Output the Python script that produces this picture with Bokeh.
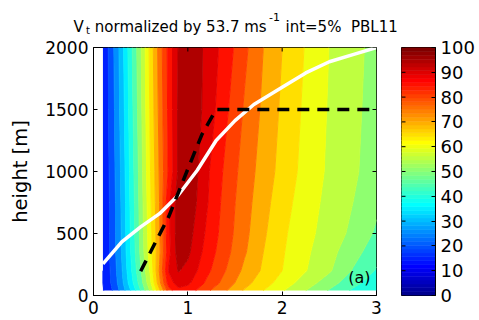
import numpy as np
from bokeh.plotting import figure
from bokeh.layouts import row, column
from bokeh.models import Range1d, FixedTicker, Label
from bokeh.embed import file_html
from bokeh.resources import INLINE

# radius (normalized) and height [m] of the wind field grid
radius = [0.1, 0.2, 0.3, 0.4, 0.5, 0.6, 0.7, 0.8, 0.9, 1.0, 1.1, 1.2,
          1.4, 1.6, 1.8, 2.0, 2.25, 2.5, 2.75, 3.0]
height = [40, 100, 200, 350, 500, 750, 1000, 1500, 2000]

# tangential wind in percent of 53.7 m/s, one row per height
vt_z40 = [14.5, 20.0, 27.0, 35.5, 45.0, 55.5, 69.0, 83.0, 88.5, 87.5, 84.5, 81.0,
          75.5, 69.5, 65.0, 60.4, 55.0, 49.5, 44.2, 40.5]
vt_z100 = [15.0, 21.0, 28.5, 38.0, 47.5, 58.5, 73.5, 87.5, 92.3, 91.0, 87.5, 84.0,
           78.0, 71.7, 67.2, 62.8, 57.4, 52.2, 46.6, 42.0]
vt_z200 = [15.0, 21.5, 29.5, 39.5, 49.5, 60.5, 75.5, 90.5, 95.3, 93.5, 90.0, 86.3,
           80.0, 73.8, 69.2, 65.0, 60.2, 55.6, 49.6, 44.5]
vt_z350 = [15.2, 22.0, 30.3, 40.5, 51.0, 62.5, 74.0, 88.5, 97.5, 96.0, 92.0, 88.0,
           81.6, 75.6, 70.0, 65.5, 60.9, 56.6, 52.0, 47.0]
vt_z500 = [15.2, 22.0, 30.5, 41.0, 51.5, 63.0, 74.5, 89.0, 97.8, 97.2, 93.0, 89.2,
           82.4, 76.4, 70.8, 66.0, 61.5, 57.8, 53.8, 49.2]
vt_z750 = [15.2, 22.2, 30.8, 41.5, 52.0, 63.8, 75.0, 89.0, 97.8, 99.8, 94.5, 90.5,
           83.0, 77.1, 71.8, 67.1, 62.3, 58.5, 55.0, 51.0]
vt_z1000 = [15.3, 22.5, 31.2, 42.0, 52.5, 64.5, 75.5, 86.0, 95.8, 98.8, 95.3, 91.0,
            83.9, 77.8, 72.8, 68.2, 63.2, 59.1, 55.9, 52.3]
vt_z1500 = [15.5, 23.0, 32.0, 43.0, 53.5, 65.5, 76.5, 86.5, 95.8, 98.8, 96.5, 93.3,
            86.0, 79.4, 74.0, 69.1, 63.9, 59.5, 56.2, 53.0]
vt_z2000 = [15.5, 23.5, 32.8, 43.9, 54.2, 66.3, 77.2, 86.8, 95.3, 98.0, 96.5, 93.8,
            87.7, 81.2, 75.0, 70.0, 64.6, 59.9, 56.6, 53.3]

levels = list(range(0, 105, 5))
cbar_ticks = list(range(0, 110, 10))
x_ticks = [0, 1, 2, 3]
y_ticks = [0, 500, 1000, 1500, 2000]

# solid white curve and dashed black curve
white_r = [0.1, 0.3, 0.5, 0.7, 0.9, 1.1, 1.3, 1.5, 1.7, 2.0, 2.25, 2.5, 2.75, 3.0]
white_z = [255, 432, 553, 660, 810, 1010, 1250, 1410, 1540, 1680, 1795, 1885, 1943, 2000]
dash_r = [0.5, 0.6, 0.8, 1.0, 1.15, 1.3, 3.0]
dash_z = [195, 345, 640, 1020, 1300, 1500, 1500]

FONT = "DejaVu Sans"
TICK_PX = 4


def jet(m=64):
    n = int(np.ceil(m / 4))
    u = np.concatenate([np.arange(1, n + 1) / n, np.ones(n - 1), np.arange(n, 0, -1) / n])
    g = int(np.ceil(n / 2)) - (1 if m % 4 == 1 else 0) + np.arange(1, len(u) + 1)
    r = g + n
    b = g - n
    cmap = np.zeros((m, 3))
    for idx, ch in ((r, 0), (g, 1), (b, 2)):
        ok = (idx >= 1) & (idx <= m)
        cmap[idx[ok] - 1, ch] = u[ok]
    return ["#%02x%02x%02x" % tuple(int(round(c * 255)) for c in rgb) for rgb in cmap]


JET = jet(64)
band_colors = [JET[min(63, int(lv * 64 / 100))] for lv in levels[:-1]]
# each contour line takes the colour of the band above it, hiding seams
edge_colors = [band_colors[min(k, len(band_colors) - 1)] for k in range(len(levels))]

vt = np.array([vt_z40, vt_z100, vt_z200, vt_z350, vt_z500, vt_z750,
               vt_z1000, vt_z1500, vt_z2000])


def style_axis(ax, size):
    ax.major_tick_in = TICK_PX
    ax.major_tick_out = 0
    ax.minor_tick_in = 0
    ax.minor_tick_out = 0
    ax.major_label_text_font = FONT
    ax.major_label_text_font_size = size
    ax.major_label_text_color = "black"
    ax.axis_line_color = "black"
    ax.major_tick_line_color = "black"
    ax.major_label_standoff = 5


# ---- title strip -------------------------------------------------------
TW, TH = 479, 35
head = figure(width=TW, height=TH, x_range=Range1d(0, TW), y_range=Range1d(0, TH),
              output_backend="svg", toolbar_location=None, title=None,
              x_axis_location=None, y_axis_location=None,
              min_border=0, outline_line_color=None)
head.grid.visible = False


def head_text(txt, x, y, size):
    head.add_layout(Label(x=x, y=y, text=txt, text_font=FONT, text_font_size=size,
                          text_color="black", text_baseline="alphabetic",
                          text_align="left"))


head_text("V", 73, 8.3, "15px")
head_text("t", 85.5, 5.5, "10px")
head_text("normalized by 53.7 ms", 94.3, 8.3, "15px")
head_text("-1", 268.5, 18.5, "11px")
head_text("int=5%\u00a0\u00a0PBL11", 285, 8.3, "15px")

# ---- main contour panel ------------------------------------------------
PH = 320 - TH
p = figure(width=390, height=PH, x_range=Range1d(0, 3), y_range=Range1d(0, 2000),
           output_backend="svg", toolbar_location=None, title=None,
           min_border_left=93, min_border_right=14, min_border_top=47 - TH,
           min_border_bottom=25)
p.grid.visible = False
p.outline_line_color = "black"
p.background_fill_color = "white"
p.border_fill_color = "white"

p.contour(x=radius, y=height, z=vt, levels=levels, fill_color=band_colors,
          line_color=edge_colors, line_width=1)

p.line(white_r, white_z, line_color="white", line_width=3.5)
p.line(dash_r, dash_z, line_color="black", line_width=3.5, line_dash="12 8")

p.xaxis.ticker = FixedTicker(ticks=x_ticks)
p.yaxis.ticker = FixedTicker(ticks=y_ticks)
style_axis(p.xaxis[0], "17px")
style_axis(p.yaxis[0], "17px")
p.yaxis.axis_label = "height [m]"
p.yaxis.axis_label_text_font = FONT
p.yaxis.axis_label_text_font_size = "19.5px"
p.yaxis.axis_label_text_font_style = "normal"
p.yaxis.axis_label_text_color = "black"
p.yaxis.axis_label_standoff = 10

# inward ticks on the top and right edges of the box
frame_w, frame_h = 390 - 93 - 14, PH - (47 - TH) - 25
dy = TICK_PX * 2000 / frame_h
dx = TICK_PX * 3 / frame_w
p.segment(x0=x_ticks, y0=[2000] * len(x_ticks), x1=x_ticks,
          y1=[2000 - dy] * len(x_ticks), line_color="black", line_width=1)
p.segment(x0=[3] * len(y_ticks), y0=y_ticks, x1=[3 - dx] * len(y_ticks),
          y1=y_ticks, line_color="black", line_width=1)

p.add_layout(Label(x=2.70, y=145, text="(a)", text_font=FONT, text_font_size="16px",
                   text_color="black", text_baseline="alphabetic"))

# ---- colorbar ----------------------------------------------------------
cb = figure(width=89, height=PH, x_range=Range1d(0, 1), y_range=Range1d(0, 100),
            output_backend="svg", toolbar_location=None, title=None,
            x_axis_location=None, y_axis_location="right",
            min_border_left=11, min_border_right=44, min_border_top=46 - TH,
            min_border_bottom=24)
cb.grid.visible = False
cb.outline_line_color = "black"
edges = np.linspace(0, 100, len(JET) + 1)
cb.quad(left=0, right=1, bottom=edges[:-1], top=edges[1:], fill_color=JET,
        line_color=JET, line_width=0.6)
cb.yaxis.ticker = FixedTicker(ticks=cbar_ticks)
style_axis(cb.yaxis[0], "18px")
cb_w = 89 - 11 - 44
cb.segment(x0=[0] * len(cbar_ticks), y0=cbar_ticks, x1=[TICK_PX / cb_w] * len(cbar_ticks),
           y1=cbar_ticks, line_color="black", line_width=1)

layout = column(head, row(p, cb))
open("out.html", "w").write(file_html(layout, INLINE))
